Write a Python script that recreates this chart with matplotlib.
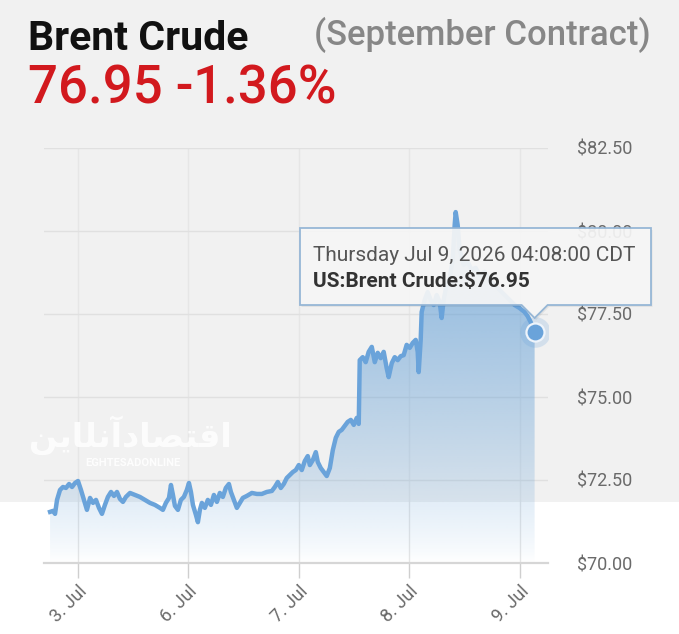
import numpy as np
import matplotlib
matplotlib.use("Agg")
import matplotlib.pyplot as plt
from matplotlib.patches import Polygon, Rectangle
from matplotlib.colors import to_rgb

# ---------------- data ----------------
title = "Brent Crude"
subtitle = "(September Contract)"
last_price = 76.95
change_pct = -1.36
tooltip_time = "Thursday Jul 9, 2026 04:08:00 CDT"
series_name = "US:Brent Crude"
watermark_fa = "\ufee6\ufbfe\ufe8e\ufee0\ufee7\ufe81\ufea9\ufe8e\ufebc\ufe98\ufed7\ufe8d"  # اقتصادآنلاین (shaped, visual order)
watermark_en = "EGHTESADONLINE"

tick_pos = [0, 1, 2, 3, 4]
tick_labels = ["3. Jul", "6. Jul", "7. Jul", "8. Jul", "9. Jul"]
y_ticks = [70.0, 72.5, 75.0, 77.5, 80.0, 82.5]

# trading-day position (0 = 3 Jul) and price
pos = [-0.253, -0.226, -0.208, -0.190, -0.163, -0.136, -0.109, -0.081, -0.054, -0.027,
       0.000, 0.027, 0.054, 0.081, 0.109, 0.136, 0.163, 0.190, 0.217, 0.244,
       0.271, 0.299, 0.326, 0.353, 0.380, 0.407, 0.434, 0.471, 0.516, 0.561,
       0.606, 0.652, 0.697, 0.742, 0.769, 0.796, 0.824, 0.842, 0.860, 0.878,
       0.905, 0.932, 0.959, 0.986, 1.005, 1.023, 1.041, 1.068, 1.086, 1.104,
       1.122, 1.149, 1.176, 1.204, 1.231, 1.258, 1.285, 1.312, 1.339, 1.367,
       1.385, 1.412, 1.439, 1.466, 1.493, 1.529, 1.575, 1.620, 1.665, 1.710,
       1.756, 1.783, 1.810, 1.837, 1.864, 1.891, 1.919, 1.946, 1.973, 2.000,
       2.027, 2.054, 2.081, 2.100, 2.127, 2.154, 2.172, 2.199, 2.226, 2.253,
       2.281, 2.308, 2.335, 2.362, 2.389, 2.416, 2.443, 2.471, 2.498, 2.525,
       2.543, 2.552, 2.579, 2.606, 2.633, 2.661, 2.688, 2.715, 2.742, 2.769,
       2.796, 2.814, 2.842, 2.869, 2.896, 2.923, 2.950, 2.977, 3.005, 3.032,
       3.059, 3.077, 3.086, 3.104, 3.113, 3.140, 3.167, 3.195, 3.222, 3.249,
       3.276, 3.294, 3.312, 3.339, 3.367, 3.394, 3.412, 3.421, 3.439, 3.457,
       3.493, 3.529, 3.566, 3.602, 3.638, 3.683, 3.729, 3.774, 3.819, 3.864,
       3.910, 3.955, 4.000, 4.045, 4.072, 4.100, 4.136]
price = [71.54, 71.57, 71.48, 71.90, 72.20, 72.29, 72.26, 72.38, 72.29, 72.41,
         72.47, 72.20, 71.90, 71.60, 71.96, 71.81, 71.90, 71.66, 71.48, 71.75,
         71.99, 72.14, 72.02, 72.14, 71.93, 71.84, 71.99, 72.11, 72.05, 71.99,
         71.90, 71.81, 71.75, 71.66, 71.60, 71.81, 71.96, 72.35, 72.05, 71.72,
         71.60, 71.90, 71.99, 72.20, 72.41, 72.14, 71.75, 71.45, 71.23, 71.60,
         71.81, 71.66, 71.90, 71.75, 72.05, 71.84, 72.11, 71.99, 72.26, 72.38,
         72.14, 71.90, 71.66, 71.81, 71.96, 72.02, 72.11, 72.08, 72.08, 72.14,
         72.17, 72.29, 72.44, 72.26, 72.38, 72.56, 72.65, 72.74, 72.80, 72.95,
         72.80, 73.07, 73.22, 72.95, 73.10, 73.34, 73.04, 72.86, 72.74, 72.62,
         72.86, 73.40, 73.77, 73.95, 74.01, 74.13, 74.25, 74.31, 74.16, 74.37,
         74.19, 76.11, 76.20, 76.05, 76.36, 76.51, 76.05, 76.33, 76.17, 76.36,
         75.87, 75.60, 76.02, 76.20, 76.11, 76.23, 76.26, 76.57, 76.48, 76.63,
         76.72, 76.36, 75.75, 76.72, 77.56, 77.92, 78.16, 77.92, 77.77, 78.07,
         77.86, 77.38, 77.92, 78.37, 78.58, 79.13, 80.18, 80.57, 80.18, 79.43,
         78.98, 79.07, 78.83, 78.89, 78.67, 78.77, 78.52, 78.37, 78.22, 78.07,
         77.92, 77.77, 77.68, 77.56, 77.44, 77.26, 76.95]

# ---------------- style ----------------
W, H = 679, 634
LINE = "#6aa3da"
FILL = "#5b9bd5"
FONT = ["Roboto", "DejaVu Sans"]
plt.rcParams["font.family"] = FONT

fig = plt.figure(figsize=(W / 100, H / 100), dpi=100, facecolor="#f1f1f1")


def fx(x):
    return x / W


def fy(y):
    return 1 - y / H


# lower white band of the screenshot
fig.add_artist(Rectangle((0, 0), 1, fy(502), transform=fig.transFigure,
                         facecolor="white", edgecolor="none", zorder=-2))

ax = fig.add_axes([fx(44), fy(563), fx(548) - fx(44), fy(148) - fy(563)])
ax.set_facecolor("none")

x = np.array(pos)
y = np.array(price)
ymin = y_ticks[0]

# gradient area
verts = np.column_stack([np.r_[x[0], x, x[-1]], np.r_[ymin, y, ymin]])
poly = Polygon(verts, closed=True, facecolor="none", edgecolor="none")
ax.add_patch(poly)
top = y.max()
rows = np.linspace(ymin, top, 300)
alpha = 0.56 * np.clip((rows - ymin) / 8.0, 0, 1) ** 0.8
rgba = np.zeros((len(rows), 1, 4))
rgba[:, 0, :3] = to_rgb(FILL)
rgba[:, 0, 3] = alpha
im = ax.imshow(rgba, extent=[x[0], x[-1], ymin, top], origin="lower",
               aspect="auto", zorder=1, interpolation="bilinear")
im.set_clip_path(poly)

ax.plot(x, y, color=LINE, lw=3.2, solid_joinstyle="round", zorder=3)
# hover marker
ax.plot(x[-1], y[-1], "o", ms=22, color=LINE, alpha=0.22, mew=0, zorder=4)
ax.plot(x[-1], y[-1], "o", ms=13, mfc=LINE, mec="#eef4fb", mew=1.6, zorder=5)

ax.set_xlim((44 - 78) / 110.4, (548 - 78) / 110.4)
ax.set_ylim(y_ticks[0], y_ticks[-1])

ax.set_xticks(tick_pos)
ax.set_xticklabels(tick_labels, rotation=45, ha="right", rotation_mode="anchor")
ax.set_yticks(y_ticks)
ax.set_yticklabels([f"${v:.2f}" for v in y_ticks])
ax.yaxis.tick_right()
ax.tick_params(axis="y", length=0, pad=21, labelsize=13, labelcolor="#6a6a6a")
ax.tick_params(axis="x", length=11, width=1, color="#cfcfcf", pad=3,
               labelsize=13, labelcolor="#6a6a6a")

ax.grid(axis="y", color="#e0e0e0", lw=1)
ax.grid(axis="x", color="#e6e6e6", lw=1)
ax.set_axisbelow(True)
for s in ["top", "right", "left"]:
    ax.spines[s].set_visible(False)
ax.spines["bottom"].set_color("#d6d6d6")
ax.spines["bottom"].set_linewidth(1.6)

# ---------------- header ----------------
fig.text(fx(28), fy(50), title, fontsize=29.5, fontweight="bold", color="#111111",
         va="baseline", ha="left")
fig.text(fx(651), fy(45), subtitle, fontsize=25, fontweight="medium",
         color="#878787", va="baseline", ha="right")
fig.text(fx(28), fy(104), f"{last_price:.2f} {change_pct:.2f}%", fontsize=38,
         fontweight="medium", color="#d2191e", va="baseline", ha="left")

# ---------------- watermark ----------------
fig.text(fx(130), fy(447), watermark_fa, fontsize=24, color="white",
         alpha=0.85, ha="center", va="baseline", family=["DejaVu Sans"],
         fontweight="bold")
fig.text(fx(133), fy(466), watermark_en, fontsize=8, color="white",
         alpha=0.9, ha="center", va="baseline", fontweight="bold")

# ---------------- tooltip ----------------
tip_px, _ = ax.transData.transform((x[-1], y[-1]))
box = [(300, 228), (651, 228), (651, 305), (tip_px + 13, 305),
       (tip_px, 318), (tip_px - 13, 305), (300, 305)]
shadow = Polygon([(fx(a + 1.5), fy(b + 2)) for a, b in box], closed=True,
                 transform=fig.transFigure, facecolor="black", alpha=0.06,
                 edgecolor="none", zorder=6)
fig.add_artist(shadow)
tt = Polygon([(fx(a), fy(b)) for a, b in box], closed=True,
             transform=fig.transFigure, facecolor="#f7f7f7", alpha=0.92,
             edgecolor="#8fb2d4", lw=1.3, zorder=7, joinstyle="miter")
fig.add_artist(tt)
fig.text(fx(313), fy(261), tooltip_time, fontsize=15, color="#555555",
         va="baseline", ha="left", zorder=8)
fig.text(fx(313), fy(287), f"{series_name}:${last_price:.2f}", fontsize=15,
         fontweight="bold", color="#333333", va="baseline", ha="left", zorder=8)

fig.savefig("out.png", dpi=100, facecolor=fig.get_facecolor())
